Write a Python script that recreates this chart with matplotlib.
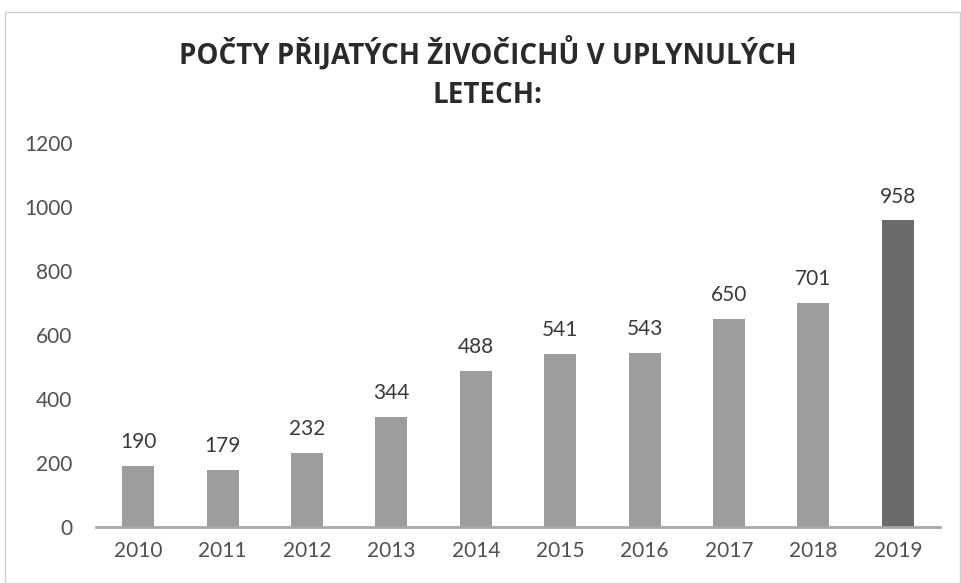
import matplotlib
matplotlib.use("Agg")
import matplotlib.pyplot as plt
from matplotlib.patches import Rectangle

years = ["2010", "2011", "2012", "2013", "2014", "2015", "2016", "2017", "2018", "2019"]
counts = [190, 179, 232, 344, 488, 541, 543, 650, 701, 958]
yticks = [0, 200, 400, 600, 800, 1000, 1200]
title = "POČTY PŘIJATÝCH ŽIVOČICHŮ V UPLYNULÝCH\nLETECH:"

bar_colors = ["#9d9d9d"] * 9 + ["#6b6b6b"]

plt.rcParams['font.family'] = ['Lato', 'DejaVu Sans']

fig = plt.figure(figsize=(9.61, 5.83), dpi=100)
fig.patch.set_facecolor("white")
fig.patches.append(Rectangle((5/961, 0), 955/961, (583-12)/583, transform=fig.transFigure,
                             fill=False, edgecolor="#d0d0d0", linewidth=1))

ax = fig.add_axes([96/961, 56/583, 844/961, 384/583])
x = list(range(len(years)))
bars = ax.bar(x, counts, width=0.38, color=bar_colors, zorder=2)
for xi, v in zip(x, counts):
    ax.annotate(str(v), (xi, v), xytext=(0, 10), textcoords="offset points",
                ha="center", va="bottom", fontsize=15, color="#3a3a3a")

ax.set_xlim(-0.5, len(years) - 0.5)
ax.set_ylim(0, 1200)
ax.set_yticks(yticks)
ax.set_yticklabels([str(t) for t in yticks])
ax.set_xticks(x)
ax.set_xticklabels(years)
ax.tick_params(axis="both", length=0, labelsize=15, labelcolor="#505050")
ax.tick_params(axis="y", pad=17)
ax.tick_params(axis="x", pad=10)
for s in ["top", "right", "left"]:
    ax.spines[s].set_visible(False)
ax.spines["bottom"].set_color("#a8a8a8")
ax.spines["bottom"].set_linewidth(2)
ax.set_facecolor("none")

fig.text(488/961, 1 - 73/583, title, ha="center", va="center", fontsize=20,
         fontweight="bold", color="#2a2a2a", linespacing=1.45,
         family=['Open Sans', 'DejaVu Sans'])

fig.savefig("out.png", dpi=100, facecolor="white")
